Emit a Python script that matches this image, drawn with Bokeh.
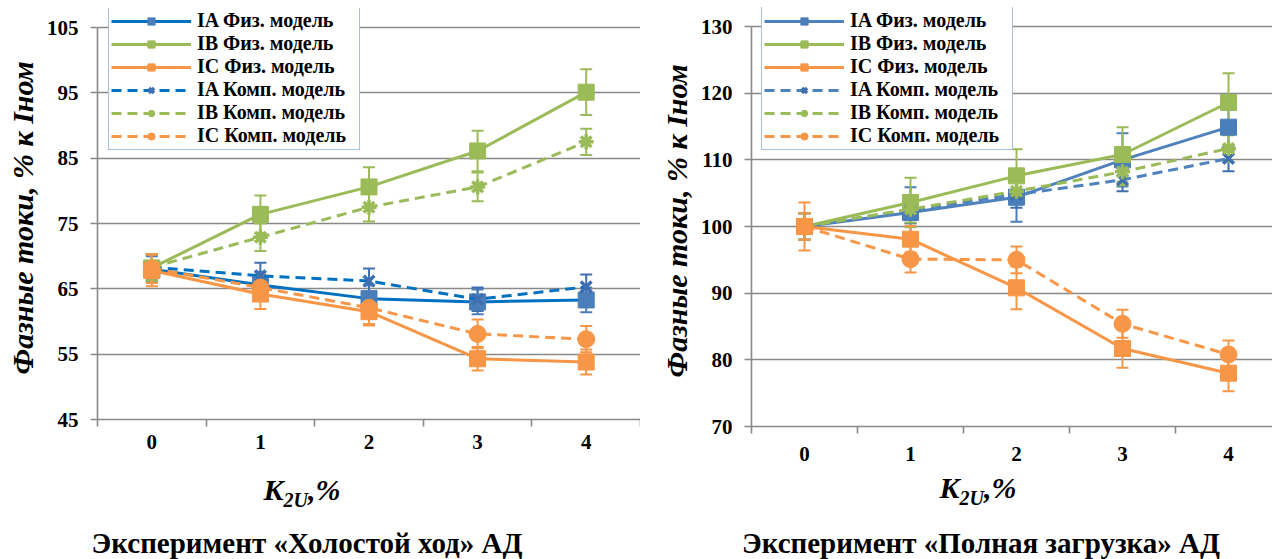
from bokeh.plotting import figure
from bokeh.models import (Range1d, FixedTicker, Legend, LegendItem, Whisker, TeeHead,
                          ColumnDataSource, Div)
from bokeh.layouts import row, column
from bokeh.embed import file_html
from bokeh.resources import INLINE

# ---------------- data ----------------
k2u = [0, 1, 2, 3, 4]
x_tick_labels = ["0", "1", "2", "3", "4"]

series_names = ["IA Физ. модель", "IB Физ. модель", "IC Физ. модель",
                "IA Комп. модель", "IB Комп. модель", "IC Комп. модель"]

# Experiment "Холостой ход" (no load)
idle_ia_phys = [68.0, 65.6, 63.5, 63.0, 63.3]
idle_ib_phys = [68.2, 76.4, 80.6, 86.1, 95.1]
idle_ic_phys = [67.8, 64.2, 61.5, 54.3, 53.8]
idle_ia_comp = [68.3, 67.0, 66.2, 63.4, 65.3]
idle_ib_comp = [68.3, 72.9, 77.5, 80.6, 87.5]
idle_ic_comp = [68.1, 65.2, 62.1, 58.1, 57.3]

idle_ia_phys_err = [2.0, 2.0, 2.0, 1.9, 1.9]
idle_ib_phys_err = [2.0, 2.9, 3.0, 3.1, 3.5]
idle_ic_phys_err = [2.4, 2.3, 2.1, 1.8, 1.9]
idle_ia_comp_err = [2.0, 2.0, 1.9, 1.8, 1.9]
idle_ib_comp_err = [2.0, 2.1, 2.2, 2.2, 2.0]
idle_ic_comp_err = [2.2, 2.0, 2.5, 2.2, 2.0]

# Experiment "Полная загрузка" (full load)
load_ia_phys = [100.0, 102.1, 104.4, 110.0, 114.9]
load_ib_phys = [100.0, 103.6, 107.6, 110.8, 118.6]
load_ic_phys = [100.0, 98.1, 90.8, 81.7, 78.0]
load_ia_comp = [100.0, 102.5, 104.8, 107.0, 110.2]
load_ib_comp = [100.0, 102.6, 105.3, 108.2, 111.7]
load_ic_comp = [100.0, 95.1, 95.0, 85.4, 80.8]

load_ia_phys_err = [2.0, 3.8, 3.7, 4.0, 3.5]
load_ib_phys_err = [2.0, 3.7, 4.0, 4.1, 4.4]
load_ic_phys_err = [3.6, 2.0, 3.2, 2.9, 2.7]
load_ia_comp_err = [2.0, 2.0, 2.0, 1.7, 1.9]
load_ib_comp_err = [2.0, 2.0, 2.0, 2.0, 2.0]
load_ic_comp_err = [2.0, 2.0, 2.0, 2.1, 2.1]

idle_y_ticks = [45, 55, 65, 75, 85, 95, 105]
load_y_ticks = [70, 80, 90, 100, 110, 120, 130]

y_label = "Фазные токи, % к  Iном"
idle_title = "Эксперимент «Холостой ход» АД"
load_title = "Эксперимент «Полная загрузка» АД"

# ---------------- style ----------------
FONT = "Liberation Serif"
GRID = "#898989"
BLUE_M = "#4A7EBB"
GREEN = "#9BBB59"
ORANGE = "#F79646"


def make_chart(values, errors, y_ticks, y_top, width, height, bl, bt, bb, x_end,
               blue_line, legend_loc, label_standoff_x):
    p = figure(width=width, height=height, output_backend="svg", toolbar_location=None,
               x_range=Range1d(-0.5, x_end), y_range=Range1d(y_ticks[0], y_top),
               min_border_left=bl, min_border_top=bt, min_border_bottom=bb, min_border_right=0)
    p.outline_line_color = None
    p.background_fill_color = "white"
    p.border_fill_color = "white"
    p.xgrid.visible = False
    p.ygrid.grid_line_color = GRID
    p.ygrid.grid_line_width = 1.6
    p.ygrid.ticker = FixedTicker(ticks=y_ticks)

    ya = p.yaxis[0]
    ya.ticker = FixedTicker(ticks=y_ticks)
    ya.bounds = (y_ticks[0], y_ticks[-1])
    ya.axis_line_color = GRID
    ya.axis_line_width = 1.6
    ya.major_tick_line_color = GRID
    ya.major_tick_line_width = 1.6
    ya.major_tick_out = 7
    ya.major_tick_in = 0
    ya.minor_tick_line_color = None
    ya.major_label_text_font = FONT
    ya.major_label_text_font_style = "bold"
    ya.major_label_text_font_size = "21px"
    ya.major_label_text_color = "black"
    ya.major_label_standoff = 12
    ya.axis_label = y_label
    ya.axis_label_text_font = FONT
    ya.axis_label_text_font_style = "bold italic"
    ya.axis_label_text_font_size = "30px"
    ya.axis_label_text_color = "black"
    ya.axis_label_standoff = 5

    xa = p.xaxis[0]
    xa.ticker = FixedTicker(ticks=k2u, minor_ticks=[-0.5, 0.5, 1.5, 2.5, 3.5, 4.5])
    xa.major_label_overrides = {k: s for k, s in zip(k2u, x_tick_labels)}
    xa.axis_line_color = GRID
    xa.axis_line_width = 1.6
    xa.major_tick_out = 0
    xa.major_tick_in = 0
    xa.major_tick_line_color = None
    xa.minor_tick_out = 7
    xa.minor_tick_in = 0
    xa.minor_tick_line_color = GRID
    xa.minor_tick_line_width = 1.6
    xa.major_label_text_font = FONT
    xa.major_label_text_font_style = "bold"
    xa.major_label_text_font_size = "21px"
    xa.major_label_text_color = "black"
    xa.major_label_standoff = label_standoff_x

    styles = [
        dict(color=blue_line, mcolor=BLUE_M, dash="solid", marker="square", size=16),
        dict(color=GREEN, mcolor=GREEN, dash="solid", marker="square", size=16),
        dict(color=ORANGE, mcolor=ORANGE, dash="solid", marker="square", size=16),
        dict(color=blue_line, mcolor="#3F6FB0", dash="10 6", marker="x", size=15),
        dict(color=GREEN, mcolor=GREEN, dash="10 6", marker="asterisk", size=15),
        dict(color=ORANGE, mcolor=ORANGE, dash="10 6", marker="circle", size=17),
    ]
    items = []
    for name, vals, errs, st in zip(series_names, values, errors, styles):
        src = ColumnDataSource(dict(x=k2u, y=vals,
                                    upper=[v + e for v, e in zip(vals, errs)],
                                    lower=[v - e for v, e in zip(vals, errs)]))
        ln = p.line("x", "y", source=src, line_color=st["color"], line_width=3,
                    line_dash=st["dash"])
        wcol = st["mcolor"]
        w = Whisker(source=src, base="x", upper="upper", lower="lower",
                    line_color=wcol, line_width=2,
                    upper_head=TeeHead(size=12, line_color=wcol, line_width=2),
                    lower_head=TeeHead(size=12, line_color=wcol, line_width=2))
        p.add_layout(w)
        if st["marker"] in ("x", "asterisk"):
            sc = p.scatter("x", "y", source=src, marker=st["marker"], size=st["size"],
                           line_color=st["mcolor"], line_width=3.5)
        else:
            sc = p.scatter("x", "y", source=src, marker=st["marker"], size=st["size"],
                           fill_color=st["mcolor"], line_color=st["mcolor"], line_width=1)
        items.append(LegendItem(label=name, renderers=[ln, sc]))

    leg = Legend(items=items, location=legend_loc)
    leg.label_text_font = FONT
    leg.label_text_font_style = "bold"
    leg.label_text_font_size = "20px"
    leg.label_text_color = "black"
    leg.glyph_width = 80
    leg.glyph_height = 18
    leg.label_height = 18
    leg.label_width = 160
    leg.label_standoff = 6
    leg.spacing = 0
    leg.padding = 2
    leg.margin = 0
    leg.border_line_color = "#4F81BD"
    leg.border_line_width = 1.5
    leg.background_fill_color = "white"
    leg.background_fill_alpha = 1.0
    p.add_layout(leg)
    return p


# frame of the idle chart: 45..105 spans 392 px, extended upward so the legend fits
p1 = make_chart([idle_ia_phys, idle_ib_phys, idle_ic_phys, idle_ia_comp, idle_ib_comp, idle_ic_comp],
                [idle_ia_phys_err, idle_ib_phys_err, idle_ic_phys_err, idle_ia_comp_err,
                 idle_ib_comp_err, idle_ic_comp_err],
                idle_y_ticks, y_top=105 + 19 * 60 / 392,
                width=640, height=463, bl=97, bt=8, bb=44, x_end=4.5,
                blue_line="#0070C0", legend_loc=(11, 269), label_standoff_x=8)

# frame of the full-load chart: 70..130 spans 400 px
p2 = make_chart([load_ia_phys, load_ib_phys, load_ic_phys, load_ia_comp, load_ib_comp, load_ic_comp],
                [load_ia_phys_err, load_ib_phys_err, load_ic_phys_err, load_ia_comp_err,
                 load_ib_comp_err, load_ic_comp_err],
                load_y_ticks, y_top=130 + 19 * 60 / 400,
                width=632, height=470, bl=111, bt=7, bb=44, x_end=4.415,
                blue_line="#4F81BD", legend_loc=(10, 276), label_standoff_x=13)


def caption(width, height, kx, ky, tx, ty, title):
    html = (
        f'<div style="position:relative;width:{width}px;height:{height}px;'
        f'font-family:\'Liberation Serif\',serif;font-weight:bold;color:#000;">'
        f'<div style="position:absolute;left:{kx - 100}px;width:200px;top:{ky - 15}px;'
        f'text-align:center;font-size:30px;font-style:italic;line-height:30px;white-space:nowrap;">'
        f'K<sub style="font-size:20px;vertical-align:-7px;line-height:0;">2U</sub>,%</div>'
        f'<div style="position:absolute;left:{tx - 300}px;width:600px;top:{ty - 11}px;'
        f'text-align:center;font-size:29px;line-height:22px;white-space:nowrap;">{title}</div>'
        f'</div>'
    )
    return Div(text=html, width=width, height=height, margin=(0, 0, 0, 0))


d1 = caption(640, 95, kx=302, ky=27, tx=307, ty=80, title=idle_title)
d2 = caption(632, 88, kx=338, ky=18, tx=341, ty=73, title=load_title)

layout = row(column(p1, d1, spacing=0), column(p2, d2, spacing=0), spacing=0)

open("out.html", "w").write(file_html(layout, INLINE))
